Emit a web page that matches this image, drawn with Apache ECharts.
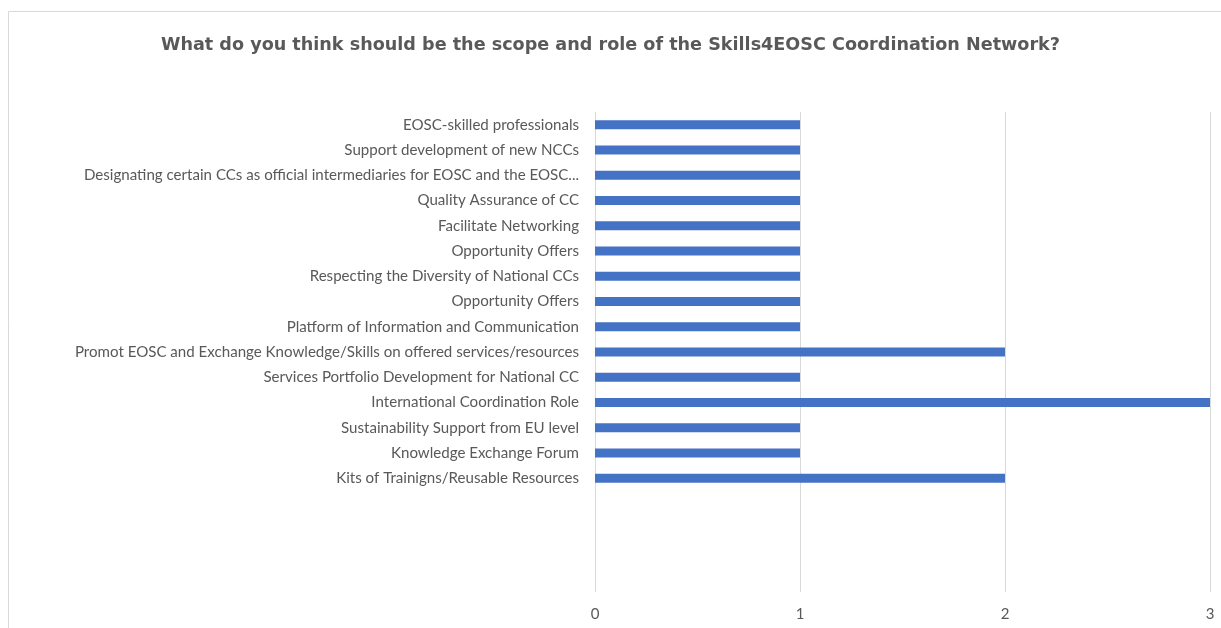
<!DOCTYPE html>
<html><head><meta charset="utf-8">
<script src="https://cdn.jsdelivr.net/npm/echarts@6/dist/echarts.min.js"></script>
<style>html,body{margin:0;padding:0;background:#fff}#c{width:1221px;height:628px}</style>
</head><body><div id="c"></div>
<script>
const categories = [
  "EOSC-skilled professionals",
  "Support development of new NCCs",
  "Designating certain CCs as official intermediaries for EOSC and the EOSC...",
  "Quality Assurance of CC",
  "Facilitate Networking",
  "Opportunity Offers",
  "Respecting the Diversity of National CCs",
  "Opportunity Offers",
  "Platform of Information and Communication",
  "Promot EOSC and Exchange Knowledge/Skills on offered services/resources",
  "Services Portfolio Development for National CC",
  "International Coordination Role",
  "Sustainability Support from EU level",
  "Knowledge Exchange Forum",
  "Kits of Trainigns/Reusable Resources"
];
const values = [1,1,1,1,1,1,1,1,1,2,1,3,1,1,2];
const emptySlots = ["", "", "", ""];
const xTicks = [0,1,2,3];
const title = "What do you think should be the scope and role of the Skills4EOSC Coordination Network?";

const cats = categories.map((c,i)=> c + "\u200b".repeat(i)).concat(emptySlots.map((e,i)=>" ".repeat(i+1)));
const chart = echarts.init(document.getElementById('c'), null, {renderer:'canvas'});
chart.setOption({
  animation:false,
  graphic:[{type:'rect', shape:{x:8.5,y:11.5,width:1400,height:800}, style:{fill:'none',stroke:'#D9D9D9',lineWidth:1}, silent:true, z:-1}],
  title:{text:title, left:'center', top:31, textStyle:{fontFamily:'DejaVu Sans', fontWeight:'bold', fontSize:17.6, color:'#595959'}},
  grid:{left:595, right:11, top:112, bottom:36, containLabel:false},
  xAxis:{type:'value', min:xTicks[0], max:xTicks[xTicks.length-1], interval:1,
    axisLine:{show:false}, axisTick:{show:false},
    splitLine:{lineStyle:{color:'#D9D9D9', width:1}},
    axisLabel:{color:'#595959', fontFamily:'Lato', fontSize:15, margin:15}},
  yAxis:{type:'category', inverse:true, data:cats,
    axisLine:{show:false}, axisTick:{show:false},
    axisLabel:{color:'#595959', fontFamily:'Lato', fontSize:15.1, margin:16,
      formatter:v=>v.replace(/\u200b/g,'').trim()}},
  series:[{type:'bar', data:values, barWidth:9, itemStyle:{color:'#4472C4'}}]
});
</script></body></html>
